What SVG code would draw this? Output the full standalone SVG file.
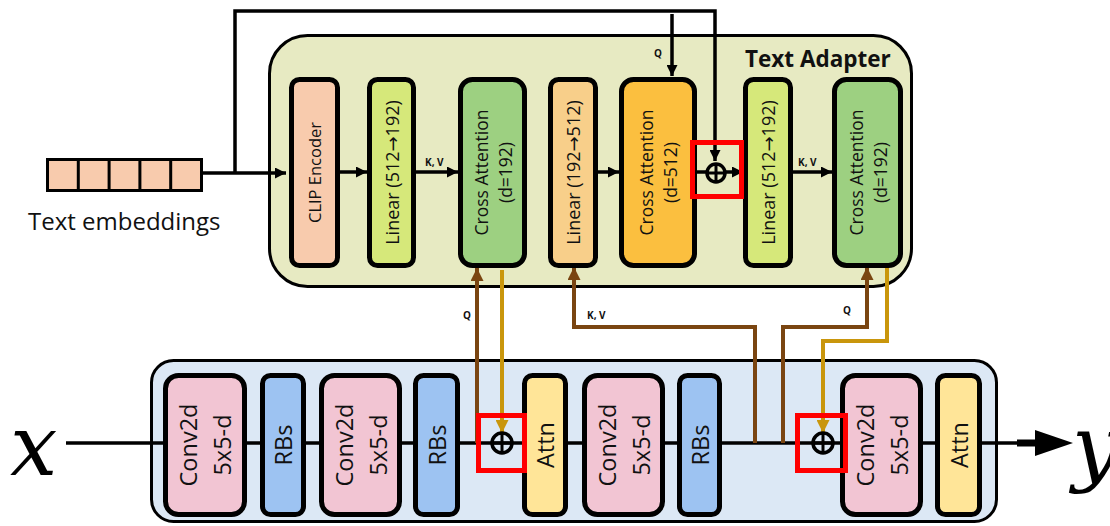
<svg xmlns="http://www.w3.org/2000/svg" width="1110" height="526" viewBox="0 0 1110 526">
<style>
.t{font-family:"Open Sans","Noto Sans","DejaVu Sans",sans-serif;fill:#111}
.box{stroke:#000;stroke-width:5}
.ln{fill:none;stroke:#000;stroke-width:3.5}
.br{fill:none;stroke:#7a4511;stroke-width:4}
.gd{fill:none;stroke:#c9960c;stroke-width:4}
.red{fill:none;stroke:#ff0000;stroke-width:5}
.lbl{font-family:"Open Sans","DejaVu Sans",sans-serif;font-weight:bold;font-size:10px;fill:#111}
.rt{font-size:17.5px;text-anchor:middle;dominant-baseline:central}
.rl{font-size:18px;text-anchor:middle;dominant-baseline:central}
.rb{font-size:23.5px;text-anchor:middle;dominant-baseline:central}
.clip{fill:#f8cbad}.lin1{fill:#d6e87a}.ca1{fill:#9dd081}.lin2{fill:#f8cf8a}.ca2{fill:#fbbf3f}
.conv{fill:#f2c5d3}.rbs{fill:#9dc3f2}.attn{fill:#ffe598}
</style>
<defs>
<marker id="ab" viewBox="0 0 10 10" refX="10" refY="5" markerWidth="11" markerHeight="11" markerUnits="userSpaceOnUse" orient="auto"><path d="M0,0 L10,5 L0,10 z" fill="#000"/></marker>
<marker id="abr" viewBox="0 0 10 10" refX="10" refY="5" markerWidth="13" markerHeight="13" markerUnits="userSpaceOnUse" orient="auto"><path d="M0,0 L10,5 L0,10 z" fill="#7a4511"/></marker>
<marker id="agd" viewBox="0 0 10 10" refX="10" refY="5" markerWidth="13" markerHeight="13" markerUnits="userSpaceOnUse" orient="auto"><path d="M0,0 L10,5 L0,10 z" fill="#c9960c"/></marker>
</defs>

<!-- panels -->
<g id="text-adapter-panel">
<rect x="269.5" y="35.5" width="642" height="251" rx="38" fill="#e7eac2" stroke="#000" stroke-width="3"/>
<text class="t" x="745" y="67" font-size="22.5" font-weight="bold">Text Adapter</text>
</g>
<g id="backbone-panel">
<rect x="151.5" y="360.5" width="845" height="161" rx="22" fill="#dce8f5" stroke="#000" stroke-width="3"/>
</g>

<!-- connectors -->
<g id="connectors">
<polyline class="ln" points="66,443 1020,443"/>
<path d="M1017,439.5 H1036 V446.5 H1017 z" fill="#000"/>
<path d="M1035,430 L1073,443 L1035,456 z" fill="#000"/>
<polyline class="ln" points="203,173 286,173" marker-end="url(#ab)"/>
<polyline class="ln" points="235,173 235,11 715,11 715,161" marker-end="url(#ab)"/>
<polyline class="ln" points="672,14 672,76" marker-end="url(#ab)"/>
<polyline class="ln" points="340,172 367,172" marker-end="url(#ab)"/>
<polyline class="ln" points="416,172 458,172" marker-end="url(#ab)"/>
<polyline class="ln" points="598,172 619,172" marker-end="url(#ab)"/>
<polyline class="ln" points="697,172 707,172"/>
<polyline class="ln" points="725,172 743,172" marker-end="url(#ab)"/>
<polyline class="ln" points="793,172 832,172" marker-end="url(#ab)"/>
<polyline class="br" points="477,443 477,268" marker-end="url(#abr)"/>
<polyline class="br" points="755,443 755,327 574,327 574,267" marker-end="url(#abr)"/>
<polyline class="br" points="783,443 783,327 867,327 867,267" marker-end="url(#abr)"/>
<polyline class="gd" points="502,270 502,433" marker-end="url(#agd)"/>
<polyline class="gd" points="887,268 887,341 823,341 823,433" marker-end="url(#agd)"/>
<text class="lbl" x="425" y="166">K, V</text>
<text class="lbl" x="798" y="166">K, V</text>
<text class="lbl" x="654" y="57">Q</text>
<text class="lbl" x="463" y="319">Q</text>
<text class="lbl" x="587" y="319">K, V</text>
<text class="lbl" x="843" y="314">Q</text>
</g>

<!-- input embeddings -->
<g id="text-embeddings">
<rect x="47.5" y="159.5" width="154" height="31" fill="#f8cbad" stroke="#000" stroke-width="3"/>
<path d="M78.3,159.5 V190.5 M109.1,159.5 V190.5 M139.9,159.5 V190.5 M170.7,159.5 V190.5" stroke="#000" stroke-width="3"/>
<text class="t" x="28" y="230" font-size="24">Text embeddings</text>
</g>

<!-- text adapter nodes -->
<g id="clip-encoder"><rect class="box clip" x="291.5" y="79.5" width="46" height="186" rx="8"/>
<text class="t rt" transform="translate(314.5,172.5) rotate(-90)" style="font-size:16.5px">CLIP Encoder</text></g>
<g id="linear-1"><rect class="box lin1" x="369.5" y="79.5" width="44" height="186" rx="8"/>
<text class="t rl" transform="translate(392,172.5) rotate(-90)">Linear (512→192)</text></g>
<g id="cross-attn-1"><rect class="box ca1" x="460.5" y="79.5" width="64" height="186" rx="12"/>
<text class="t rt" transform="translate(492.5,172.5) rotate(-90)"><tspan x="0" y="-12">Cross Attention</tspan><tspan x="0" y="12">(d=192)</tspan></text></g>
<g id="linear-2"><rect class="box lin2" x="550.5" y="79.5" width="45" height="186" rx="8"/>
<text class="t rl" transform="translate(573,172.5) rotate(-90)">Linear (192→512)</text></g>
<g id="cross-attn-2"><rect class="box ca2" x="621.5" y="79.5" width="73" height="186" rx="12"/>
<text class="t rt" transform="translate(658,172.5) rotate(-90)"><tspan x="0" y="-12">Cross Attention</tspan><tspan x="0" y="12">(d=512)</tspan></text></g>
<g id="plus-top"><circle cx="716" cy="173" r="9" fill="none" stroke="#000" stroke-width="3.5"/><path d="M707,173 H725 M716,164 V182" stroke="#000" stroke-width="3"/></g>
<g id="linear-3"><rect class="box lin1" x="745.5" y="79.5" width="45" height="186" rx="8"/>
<text class="t rl" transform="translate(768,172.5) rotate(-90)">Linear (512→192)</text></g>
<g id="cross-attn-3"><rect class="box ca1" x="834.5" y="79.5" width="66" height="186" rx="12"/>
<text class="t rt" transform="translate(867.5,172.5) rotate(-90)"><tspan x="0" y="-12">Cross Attention</tspan><tspan x="0" y="12">(d=192)</tspan></text></g>

<!-- backbone nodes -->
<g id="conv-1"><rect class="box conv" x="165.5" y="375.5" width="79" height="139" rx="13"/>
<text class="t rb" transform="translate(205,445) rotate(-90)"><tspan x="0" y="-17">Conv2d</tspan><tspan x="0" y="17">5x5-d</tspan></text></g>
<g id="rbs-1"><rect class="box rbs" x="262.5" y="375.5" width="41" height="139" rx="8"/>
<text class="t rb" transform="translate(283,445) rotate(-90)">RBs</text></g>
<g id="conv-2"><rect class="box conv" x="321.5" y="375.5" width="78" height="139" rx="13"/>
<text class="t rb" transform="translate(360.5,445) rotate(-90)"><tspan x="0" y="-17">Conv2d</tspan><tspan x="0" y="17">5x5-d</tspan></text></g>
<g id="rbs-2"><rect class="box rbs" x="415.5" y="375.5" width="42" height="139" rx="8"/>
<text class="t rb" transform="translate(436.5,445) rotate(-90)">RBs</text></g>
<g id="plus-1"><circle cx="502" cy="443" r="10" fill="none" stroke="#000" stroke-width="3.5"/><path d="M492,443 H512 M502,433 V453" stroke="#000" stroke-width="3"/></g>
<g id="attn-1"><rect class="box attn" x="524.5" y="375.5" width="41" height="139" rx="8"/>
<text class="t rb" transform="translate(545,445) rotate(-90)">Attn</text></g>
<g id="conv-3"><rect class="box conv" x="584.5" y="375.5" width="78" height="139" rx="13"/>
<text class="t rb" transform="translate(623.5,445) rotate(-90)"><tspan x="0" y="-17">Conv2d</tspan><tspan x="0" y="17">5x5-d</tspan></text></g>
<g id="rbs-3"><rect class="box rbs" x="679.5" y="375.5" width="40" height="139" rx="8"/>
<text class="t rb" transform="translate(699.5,445) rotate(-90)">RBs</text></g>
<g id="plus-2"><circle cx="823" cy="443" r="10" fill="none" stroke="#000" stroke-width="3.5"/><path d="M813,443 H833 M823,433 V453" stroke="#000" stroke-width="3"/></g>
<g id="conv-4"><rect class="box conv" x="842.5" y="375.5" width="78" height="139" rx="13"/>
<text class="t rb" transform="translate(881.5,445) rotate(-90)"><tspan x="0" y="-17">Conv2d</tspan><tspan x="0" y="17">5x5-d</tspan></text></g>
<g id="attn-2"><rect class="box attn" x="937.5" y="375.5" width="42" height="139" rx="8"/>
<text class="t rb" transform="translate(958.5,445) rotate(-90)">Attn</text></g>

<!-- highlights -->
<g id="highlights">
<rect class="red" x="692.5" y="142.5" width="49" height="54"/>
<rect class="red" x="478.5" y="415.5" width="46" height="55"/>
<rect class="red" x="797.5" y="415.5" width="48" height="55"/>
</g>

<!-- io labels -->
<g id="io">
<text x="10" y="475" font-family="DejaVu Serif, serif" font-style="italic" font-size="84" fill="#000">x</text>
<text x="1072" y="475" font-family="DejaVu Serif, serif" font-style="italic" font-size="84" fill="#000">y</text>
</g>
</svg>
